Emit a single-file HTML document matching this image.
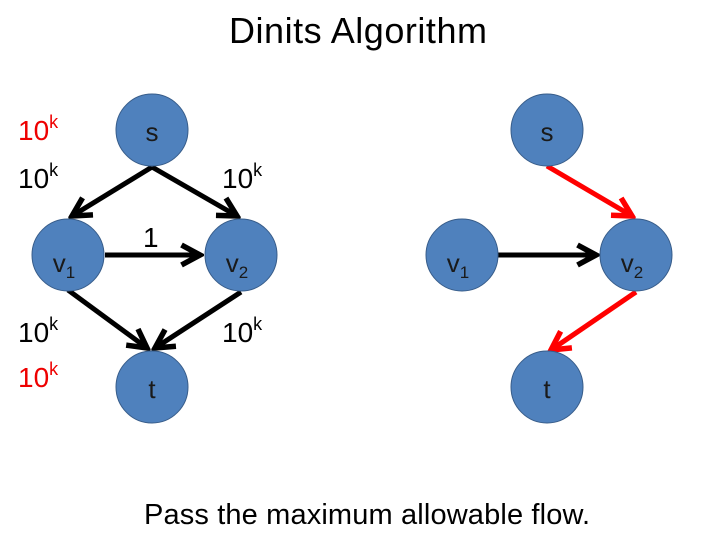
<!DOCTYPE html>
<html><head><style>
body{margin:0;width:720px;height:540px;background:#fff;overflow:hidden}
text{font-family:"Liberation Sans",sans-serif}
</style></head><body>
<svg width="720" height="540" viewBox="0 0 720 540">
<defs>
<marker id="ak" markerWidth="5" markerHeight="5" refX="4.2" refY="2.5" orient="auto" markerUnits="strokeWidth"><path d="M0.5,0.5 L4.2,2.5 L0.5,4.5" fill="none" stroke="#000" stroke-width="1.1"/></marker>
<marker id="ar" markerWidth="5" markerHeight="5" refX="4.2" refY="2.5" orient="auto" markerUnits="strokeWidth"><path d="M0.5,0.5 L4.2,2.5 L0.5,4.5" fill="none" stroke="#f00" stroke-width="1.1"/></marker>
</defs>
<text x="358" y="43" font-size="36" text-anchor="middle" textLength="258">Dinits Algorithm</text>
<g stroke-width="5" fill="none">
<line x1="152" y1="167" x2="72" y2="216" stroke="#000" marker-end="url(#ak)"/>
<line x1="152" y1="167" x2="237" y2="216" stroke="#000" marker-end="url(#ak)"/>
<line x1="105" y1="255" x2="200" y2="255" stroke="#000" marker-end="url(#ak)"/>
<line x1="68" y1="290" x2="147" y2="348" stroke="#000" marker-end="url(#ak)"/>
<line x1="241" y1="292" x2="155" y2="348" stroke="#000" marker-end="url(#ak)"/>
<line x1="547" y1="166" x2="632" y2="216" stroke="#f00" marker-end="url(#ar)"/>
<line x1="498" y1="255" x2="596" y2="255" stroke="#000" marker-end="url(#ak)"/>
<line x1="636" y1="292" x2="551" y2="350" stroke="#f00" marker-end="url(#ar)"/>
</g>
<g fill="#4f81bd" stroke="#385d8a" stroke-width="1">
<circle cx="152" cy="130" r="36"/><circle cx="68" cy="255" r="36"/><circle cx="241" cy="255" r="36"/><circle cx="152" cy="387" r="36"/>
<circle cx="547" cy="130" r="36"/><circle cx="462" cy="255" r="36"/><circle cx="636" cy="255" r="36"/><circle cx="547" cy="387" r="36"/>
</g>
<g font-size="26" fill="#1a1a1a" text-anchor="middle">
<text x="152" y="141">s</text><text x="547" y="141">s</text>
<text x="152" y="398">t</text><text x="547" y="398">t</text>
<text x="64" y="272">v<tspan font-size="17" dy="6">1</tspan></text>
<text x="237" y="272">v<tspan font-size="17" dy="6">2</tspan></text>
<text x="458" y="272">v<tspan font-size="17" dy="6">1</tspan></text>
<text x="632" y="272">v<tspan font-size="17" dy="6">2</tspan></text>
</g>
<g font-size="28">
<text x="18" y="140" fill="#e00">10<tspan font-size="18" dy="-12">k</tspan></text>
<text x="18" y="188">10<tspan font-size="18" dy="-12">k</tspan></text>
<text x="222" y="188">10<tspan font-size="18" dy="-12">k</tspan></text>
<text x="143" y="247">1</text>
<text x="18" y="342">10<tspan font-size="18" dy="-12">k</tspan></text>
<text x="18" y="387" fill="#e00">10<tspan font-size="18" dy="-12">k</tspan></text>
<text x="222" y="342">10<tspan font-size="18" dy="-12">k</tspan></text>
</g>
<text x="144" y="524" font-size="29" textLength="446">Pass the maximum allowable flow.</text>
</svg>
</body></html>
